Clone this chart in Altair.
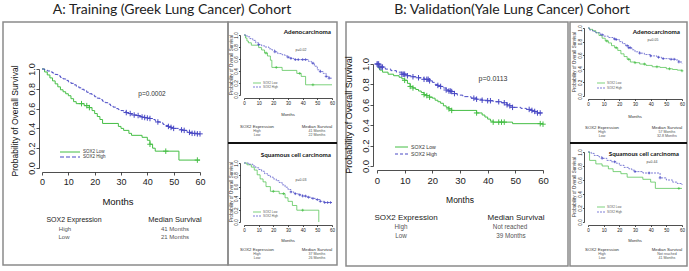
import altair as alt
import pandas as pd

W, H = 689, 271
SANS = "Liberation Sans, Arial, sans-serif"
TITLE_FONT = "Lato, Carlito, sans-serif"
GREEN = "#45be45"
BLUE = "#4848c4"
PLUS = "M-1,0L1,0M0,-1L0,1"

# ---------------- data ----------------
months_ticks = [0, 10, 20, 30, 40, 50, 60]
prob_ticks = [0.0, 0.2, 0.4, 0.6, 0.8, 1.0]

# A: Training, all patients
A_low_t = [0, 1, 2, 3, 4, 5, 6, 7, 8, 9, 10, 11, 12, 13, 16, 18, 19, 20, 21, 22, 23, 29, 30, 31, 33, 34, 38, 40, 41, 42, 43, 52, 60]
A_low_s = [1.0, 0.97, 0.94, 0.91, 0.88, 0.85, 0.82, 0.79, 0.77, 0.75, 0.73, 0.70, 0.67, 0.65, 0.63, 0.61, 0.58, 0.55, 0.52, 0.49, 0.45, 0.42, 0.40, 0.38, 0.35, 0.33, 0.31, 0.28, 0.24, 0.20, 0.17, 0.08, 0.08]
A_low_c = [15, 17, 18, 41, 47, 59]
A_high_t = [0, 1, 2, 3, 4, 5, 6, 7, 8, 9, 10, 11, 12, 13, 14, 15, 16, 17, 18, 19, 20, 21, 22, 23, 24, 25, 26, 27, 28, 29, 30,
            31, 32, 33, 34, 35, 36, 37, 38, 39, 40, 41, 42, 43, 44, 45, 46, 47, 48, 49, 50, 51, 52, 53, 54, 55, 56, 57, 58, 59, 60]
A_high_s = [1.0, 0.99, 0.98, 0.97, 0.96, 0.945, 0.93, 0.915, 0.90, 0.885, 0.87, 0.855, 0.84, 0.825, 0.81, 0.795, 0.78, 0.765,
            0.75, 0.735, 0.72, 0.705, 0.69, 0.675, 0.66, 0.645, 0.63, 0.615, 0.60, 0.59, 0.58, 0.57, 0.56, 0.55, 0.54, 0.535,
            0.53, 0.52, 0.515, 0.51, 0.505, 0.50, 0.49, 0.475, 0.465, 0.455, 0.44, 0.43, 0.42, 0.41, 0.40, 0.40, 0.39, 0.385,
            0.38, 0.37, 0.36, 0.35, 0.35, 0.345, 0.345]
A_high_c = [32, 33.5, 35, 36.5, 38, 39, 40, 41, 44, 48, 49, 50, 53, 54, 56, 57, 58, 59, 60]

# A: Adenocarcinoma
Aad_low_t = [0, 1, 2, 3, 5, 10, 12, 14, 16, 18, 19, 26, 36, 39, 42, 60]
Aad_low_s = [1.0, 0.95, 0.90, 0.87, 0.83, 0.79, 0.75, 0.70, 0.65, 0.58, 0.46, 0.41, 0.36, 0.31, 0.17, 0.17]
Aad_low_c = [15, 22, 38, 47]
Aad_high_t = [0, 2, 4, 6, 8, 10, 12, 14, 17, 19, 21, 23, 26, 28, 30, 32, 34, 44, 46, 48, 50, 52, 54, 56, 58, 60]
Aad_high_s = [1.0, 0.97, 0.94, 0.91, 0.87, 0.84, 0.82, 0.80, 0.77, 0.75, 0.72, 0.69, 0.67, 0.65, 0.63, 0.61, 0.59, 0.56,
              0.53, 0.48, 0.42, 0.39, 0.36, 0.31, 0.28, 0.28]
Aad_high_c = [10, 21, 30, 32, 35, 37, 40, 42, 47, 52, 56, 58]

# A: Squamous cell carcinoma
Asq_low_t = [0, 2, 5, 7, 9, 11, 13, 15, 18, 24, 28, 30, 33, 36, 51]
Asq_low_s = [1.0, 0.97, 0.93, 0.88, 0.80, 0.73, 0.68, 0.60, 0.52, 0.48, 0.41, 0.35, 0.28, 0.20, 0.0]
Asq_low_c = [20, 27, 40]
Asq_high_t = [0, 3, 6, 8, 10, 12, 14, 16, 18, 20, 22, 24, 26, 28, 30, 32, 34, 37, 40, 43, 46, 49, 52, 55, 60]
Asq_high_s = [1.0, 0.98, 0.95, 0.92, 0.89, 0.86, 0.82, 0.79, 0.76, 0.73, 0.70, 0.67, 0.63, 0.59, 0.55, 0.51, 0.48, 0.46,
              0.44, 0.42, 0.40, 0.38, 0.35, 0.33, 0.33]
Asq_high_c = [32, 35, 38, 40, 42, 44, 47, 50, 52, 55, 57, 59]

# B: Validation, all patients
B_low_t = [0, 0.5, 1, 2, 4, 6, 8, 9, 10, 11, 12, 13, 14, 15, 16, 17, 18, 19, 20, 21, 22, 23, 24, 25, 26, 27, 36, 38, 39, 40, 41, 42, 49, 60]
B_low_s = [1.0, 0.96, 0.94, 0.92, 0.90, 0.885, 0.87, 0.855, 0.84, 0.81, 0.78, 0.765, 0.75, 0.735, 0.72, 0.70, 0.69, 0.675,
           0.665, 0.645, 0.63, 0.615, 0.59, 0.575, 0.56, 0.545, 0.52, 0.50, 0.48, 0.46, 0.44, 0.43, 0.415, 0.41]
B_low_c = [10, 12, 13, 17, 18, 19, 26, 27, 36, 42, 44, 45, 46, 59, 60]
B_high_t = [0, 1, 3, 5, 7, 9, 11, 13, 15, 17, 19, 20, 21, 22, 23, 24, 25, 26, 27, 28, 29, 31, 34, 36, 38, 40, 42, 45, 47,
            48, 49, 52, 54, 56, 57, 58, 60]
B_high_s = [1.0, 0.97, 0.95, 0.935, 0.92, 0.90, 0.885, 0.875, 0.865, 0.85, 0.835, 0.82, 0.80, 0.79, 0.78, 0.765, 0.745,
            0.735, 0.73, 0.71, 0.695, 0.68, 0.665, 0.655, 0.645, 0.64, 0.63, 0.62, 0.60, 0.59, 0.575, 0.565, 0.555, 0.545,
            0.535, 0.52, 0.52]
B_high_c = [0, 0.3, 0.6, 1, 1.5, 2, 9, 9.5, 10, 11, 13, 15, 17, 18, 18.5, 19, 22, 23, 25, 26, 26.5, 27, 28, 35, 36, 38,
            40, 41, 44, 46, 47, 48, 49, 55, 56, 57, 58, 59]

# B: Adenocarcinoma
Bad_low_t = [0, 1, 3, 5, 7, 9, 11, 13, 15, 17, 19, 21, 23, 25, 27, 30, 33, 37, 41, 46, 50, 54, 57, 60]
Bad_low_s = [1.0, 0.98, 0.96, 0.93, 0.89, 0.85, 0.81, 0.78, 0.74, 0.71, 0.67, 0.62, 0.58, 0.54, 0.50, 0.49, 0.47, 0.45,
             0.43, 0.42, 0.40, 0.39, 0.38, 0.37]
Bad_low_c = [12, 18, 26, 30, 36, 44, 52, 60]
Bad_high_t = [0, 1, 3, 5, 8, 10, 13, 16, 18, 20, 22, 24, 26, 28, 30, 33, 36, 40, 44, 47, 52, 56, 58, 60]
Bad_high_s = [1.0, 0.97, 0.95, 0.93, 0.90, 0.88, 0.86, 0.84, 0.83, 0.80, 0.77, 0.74, 0.71, 0.68, 0.65, 0.63, 0.61, 0.59,
              0.57, 0.55, 0.54, 0.53, 0.50, 0.48]
Bad_high_c = [9, 17, 18, 25, 26, 27, 33, 40, 45, 48, 53, 55, 58]

# B: Squamous cell carcinoma
Bsq_low_t = [0, 1, 5, 9, 13, 16, 21, 25, 35, 40, 43, 60]
Bsq_low_s = [1.0, 0.88, 0.83, 0.80, 0.76, 0.72, 0.69, 0.64, 0.61, 0.57, 0.48, 0.48]
Bsq_low_c = [58]
Bsq_high_t = [0, 2, 4, 7, 9, 12, 15, 18, 20, 23, 26, 28, 30, 35, 46, 50, 54, 57, 60]
Bsq_high_s = [1.0, 0.98, 0.95, 0.93, 0.91, 0.88, 0.86, 0.84, 0.81, 0.78, 0.76, 0.74, 0.72, 0.70, 0.63, 0.60, 0.57, 0.55, 0.53]
Bsq_high_c = [9, 17, 30, 39, 46]


def step_at(ts, ss, t):
    v = ss[0]
    for ti, si in zip(ts, ss):
        if ti <= t:
            v = si
        else:
            break
    return v


def km_panel(low_t, low_s, low_c, high_t, high_s, high_c, xr, yr, ax_x, ax_y,
             tick_fs, tick_size, lw, dash, csize):
    xs = alt.Scale(domain=[0, 60], range=xr, nice=False, zero=False)
    ys = alt.Scale(domain=[0, 1], range=yr, nice=False, zero=False)
    common = dict(grid=False, title=None, domainColor="#222", tickColor="#222", labelColor="#222",
                  domainWidth=0.8, tickWidth=0.8, tickSize=tick_size, labelFont=SANS,
                  labelFontSize=tick_fs, labelFlush=False, labelOverlap=False)
    xax = alt.Axis(values=months_ticks, orient="bottom", offset=ax_y - H,
                   labelPadding=tick_size * 0.8, **common)
    yax = alt.Axis(values=prob_ticks, orient="left", offset=-ax_x, format=".1f",
                   labelAngle=270, labelAlign="center", labelBaseline="bottom",
                   labelPadding=0, **common)
    X = alt.X("t:Q", scale=xs, axis=xax)
    Y = alt.Y("s:Q", scale=ys, axis=yax)

    low = pd.DataFrame({"t": low_t, "s": low_s})
    high = pd.DataFrame({"t": high_t, "s": high_s})
    lowc = pd.DataFrame({"t": low_c, "s": [step_at(low_t, low_s, c) for c in low_c]})
    highc = pd.DataFrame({"t": high_c, "s": [step_at(high_t, high_s, c) for c in high_c]})

    l1 = alt.Chart(low).mark_line(interpolate="step-after", color=GREEN, strokeWidth=lw).encode(x=X, y=Y)
    l2 = alt.Chart(high).mark_line(interpolate="step-after", color=BLUE, strokeWidth=lw,
                                   strokeDash=dash).encode(x=X, y=Y)
    c1 = alt.Chart(lowc).mark_point(shape=PLUS, filled=False, color=GREEN, size=csize,
                                    strokeWidth=lw, opacity=1).encode(x=X, y=Y)
    c2 = alt.Chart(highc).mark_point(shape=PLUS, filled=False, color=BLUE, size=csize,
                                     strokeWidth=lw, opacity=1).encode(x=X, y=Y)
    return alt.layer(l1, l2, c1, c2)


ONE = pd.DataFrame({"k": [0]})


def txt(s, x, y, size, color="#111", font=SANS, weight="normal", align="center",
        baseline="middle", angle=None):
    kw = dict(fontSize=size, color=color, font=font, fontWeight=weight, align=align, baseline=baseline)
    if angle is not None:
        kw["angle"] = angle
    return alt.Chart(ONE).mark_text(**kw).encode(x=alt.value(x), y=alt.value(y), text=alt.value(s))


def frame(x1, y1, x2, y2, color="#8a8a8a", w=1.5):
    return alt.Chart(ONE).mark_rect(fillOpacity=0, stroke=color, strokeWidth=w).encode(
        x=alt.value(x1), x2=alt.value(x2), y=alt.value(y1), y2=alt.value(y2))


def hline(x1, x2, y, color, w=1.0, dash=None):
    kw = dict(color=color, strokeWidth=w)
    if dash:
        kw["strokeDash"] = dash
    return alt.Chart(ONE).mark_rule(**kw).encode(x=alt.value(x1), x2=alt.value(x2), y=alt.value(y))


layers = []

# frames
layers += [frame(3, 22, 228, 265), frame(228, 22, 337, 265), frame(346, 22, 568, 266), frame(570, 22, 687, 266)]
layers += [hline(228, 337, 143, "#111", 2), hline(570, 687, 143, "#111", 2)]

# panels
panels = [
    km_panel(A_low_t, A_low_s, A_low_c, A_high_t, A_high_s, A_high_c, [42, 200], [168, 69], 39, 172, 9, 3, 1.0, [4, 2], 30),
    km_panel(B_low_t, B_low_s, B_low_c, B_high_t, B_high_s, B_high_c, [377, 543], [166, 64], 373, 170, 9.5, 3, 1.0, [4, 2], 30),
    km_panel(Aad_low_t, Aad_low_s, Aad_low_c, Aad_high_t, Aad_high_s, Aad_high_c, [244, 332], [95, 35], 240, 98, 4.5, 1.5, 0.7, [2, 1], 8),
    km_panel(Asq_low_t, Asq_low_s, Asq_low_c, Asq_high_t, Asq_high_s, Asq_high_c, [244, 332], [222, 163], 240, 225, 4.5, 1.5, 0.7, [2, 1], 8),
    km_panel(Bad_low_t, Bad_low_s, Bad_low_c, Bad_high_t, Bad_high_s, Bad_high_c, [588, 682], [96, 28], 584, 99, 4.5, 1.5, 0.7, [2, 1], 8),
    km_panel(Bsq_low_t, Bsq_low_s, Bsq_low_c, Bsq_high_t, Bsq_high_s, Bsq_high_c, [588, 682], [222, 152], 584, 225, 4.5, 1.5, 0.7, [2, 1], 8),
]
layers += panels

# titles
layers += [txt("A: Training (Greek Lung Cancer) Cohort", 172, 10, 14, color="#222", font=TITLE_FONT),
           txt("B: Validation(Yale Lung Cancer) Cohort", 512, 10, 14, color="#222", font=TITLE_FONT)]

# main A annotations
layers += [
    txt("Probability of Overall Survival", 15, 121, 8.5, angle=270),
    txt("Months", 118, 202, 9.5),
    txt("p=0.0002", 152, 94, 6.5, color="#333"),
    hline(60, 80, 152, GREEN, 1), hline(60, 80, 157, BLUE, 1, [4, 2]),
    txt("SOX2 Low", 83, 152, 4.5, color="#333", align="left"),
    txt("SOX2 High", 83, 157, 4.5, color="#333", align="left"),
    txt("SOX2 Expression", 74, 220, 7, color="#222"),
    txt("High", 65, 229, 6, color="#555"), txt("Low", 64, 237, 6, color="#555"),
    txt("Median Survival", 175, 220, 7.5, color="#222"),
    txt("41 Months", 175, 229, 6, color="#555"), txt("21 Months", 175, 237, 6, color="#555"),
]

# main B annotations
layers += [
    txt("Probability of Overall Survival", 349, 115, 9, angle=270),
    txt("Months", 460, 200, 8.5),
    txt("p=0.0113", 493, 79, 7, color="#333"),
    hline(395, 408, 147, GREEN, 1), hline(395, 408, 154, BLUE, 1, [3, 2]),
    txt("SOX2 Low", 411, 147, 5.2, color="#333", align="left"),
    txt("SOX2 High", 411, 154, 5.2, color="#333", align="left"),
    txt("SOX2 Expression", 406, 218, 8, color="#222"),
    txt("High", 401, 227, 6.3, color="#555"), txt("Low", 401, 236, 6.3, color="#555"),
    txt("Median Survival", 516, 218, 8, color="#222"),
    txt("Not reached", 510, 227, 6.3, color="#555"), txt("39 Months", 511, 236, 6.3, color="#555"),
]


def small_texts(title, title_right, title_y, pval, px, py, leg_x, leg_y1, leg_y2, ytitle_x, ytitle_y,
                months_x, months_y, sx, mx, ty, m1, m2):
    return [
        txt(title, title_right, title_y, 6.3, color="#111", font=TITLE_FONT, weight="bold", align="right"),
        txt(pval, px, py, 3.5, color="#444"),
        hline(leg_x, leg_x + 8, leg_y1, GREEN, 0.7), hline(leg_x, leg_x + 8, leg_y2, BLUE, 0.7, [2, 1]),
        txt("SOX2 Low", leg_x + 10, leg_y1, 3, color="#555", align="left"),
        txt("SOX2 High", leg_x + 10, leg_y2, 3, color="#555", align="left"),
        txt("Probability of Overall Survival", ytitle_x, ytitle_y, 4.6, color="#333", angle=270),
        txt("Months", months_x, months_y, 4.2, color="#333"),
        txt("SOX2 Expression", sx, ty, 4.3, color="#333"),
        txt("High", sx, ty + 4.2, 3.6, color="#555"), txt("Low", sx, ty + 8.4, 3.6, color="#555"),
        txt("Median Survival", mx, ty, 4.3, color="#333"),
        txt(m1, mx, ty + 4.2, 3.6, color="#555"), txt(m2, mx, ty + 8.4, 3.6, color="#555"),
    ]


layers += small_texts("Adenocarcinoma", 331, 32, "p=0.02", 301, 50, 253, 83, 87, 232, 65, 288, 115, 257, 317, 127,
                      "41 Months", "22 Months")
layers += small_texts("Squamous cell carcinoma", 331, 155, "p=0.03", 301, 180, 253, 212, 216, 232, 192, 288, 241, 257,
                      317, 250, "37 Months", "26 Months")
layers += small_texts("Adenocarcinoma", 680, 32, "p=0.05", 653, 40, 597, 83, 88, 575, 62, 635, 117, 602, 667, 128,
                      "57 Months", "32.8 Months")
layers += small_texts("Squamous cell carcinoma", 679, 154, "p=0.44", 652, 162, 597, 207, 212, 575, 187, 635, 241, 602,
                      667, 250, "Not reached", "41 Months")

chart = (
    alt.layer(*layers)
    .resolve_scale(x="independent", y="independent")
    .resolve_axis(x="independent", y="independent")
    .properties(width=W, height=H, autosize=alt.AutoSizeParams(type="none"), padding=0, background="white")
    .configure_view(stroke=None)
)

chart.save("out.html", embed_options={"renderer": "svg", "actions": False})
